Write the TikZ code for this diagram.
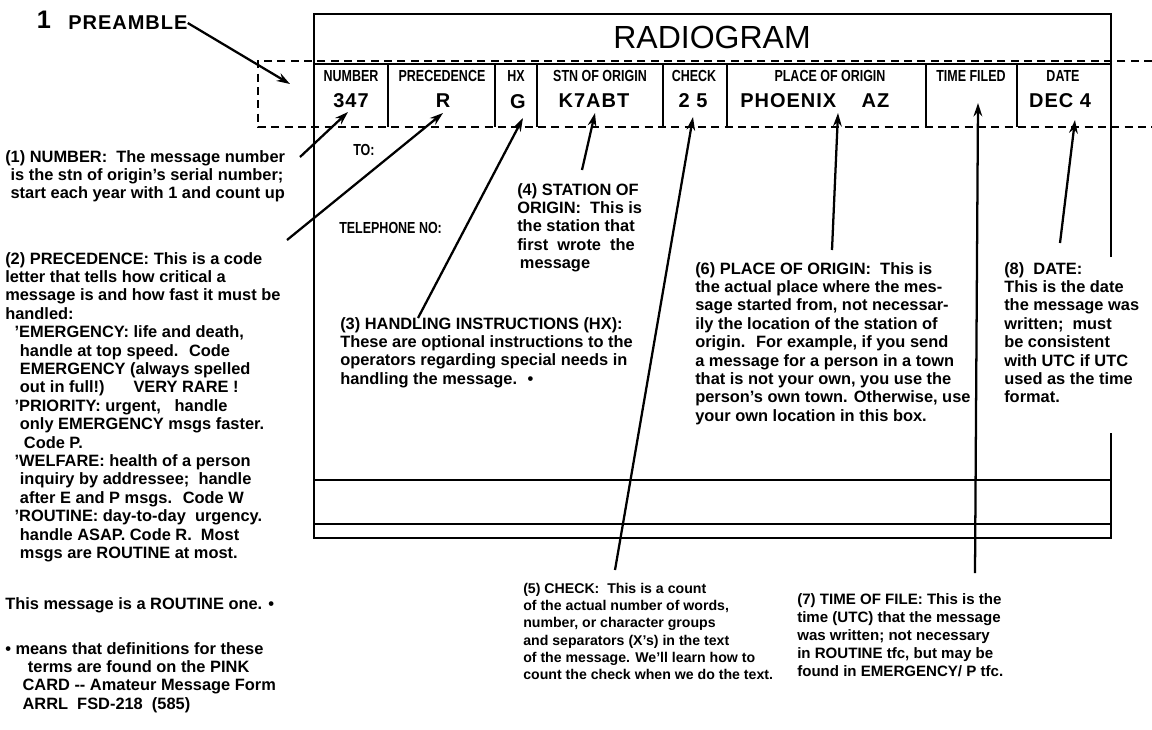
\documentclass[tikz,border=0pt]{standalone}
\usepackage{fontspec}
\setmainfont{Liberation Sans}
\newfontfamily\formfont[FakeStretch=0.78]{Liberation Sans}
\newfontfamily\valfont[LetterSpace=5]{Liberation Sans}
\usetikzlibrary{arrows.meta}

\begin{document}
\begin{tikzpicture}[x=0.75pt,y=-0.75pt,
    note/.style={anchor=north west,inner sep=0pt,align=left,
      font=\fontsize{12.3}{13.8}\selectfont\bfseries},
    smallnote/.style={note,font=\fontsize{10.6}{12.9}\selectfont\bfseries},
    cell/.style={inner sep=0pt,font=\formfont\fontsize{12}{14}\selectfont\bfseries},
    entry/.style={inner sep=0pt,font=\valfont\fontsize{15}{18}\selectfont\bfseries},
    formline/.style={line width=1.5pt},
    preline/.style={line width=1.4pt,dash pattern=on 6pt off 4pt}]
  \useasboundingbox (0,0) rectangle (1152,729);

  % the form
  \draw[line width=2.2pt] (1111,257) -- (1111,14) -- (314,14) -- (314,538)
    -- (1111,538) -- (1111,433);
  \draw[formline] (314,64) -- (1111,64);
  \draw[formline] (314,480) -- (1111,480);
  \draw[formline] (314,524) -- (1111,524);
  \foreach \x in {388,495,537,663,727,926,1017}
    \draw[formline] (\x,64) -- (\x,127);
  \draw[preline] (1152,61) -- (258,61) -- (258,127) -- (1152,127);

  \node[font=\fontsize{24}{28}\selectfont] (title) at (712,37) {RADIOGRAM};

  % header row
  \node[cell] (lnum) at (351,76) {NUMBER};
  \node[cell] (lprec) at (442,76) {PRECEDENCE};
  \node[cell] (lhx) at (516,76) {HX};
  \node[cell] (lstn) at (600,76) {STN OF ORIGIN};
  \node[cell] (lchk) at (694,76) {CHECK};
  \node[cell] (lplace) at (830,76) {PLACE OF ORIGIN};
  \node[cell] (ltime) at (971,76) {TIME FILED};
  \node[cell] (ldate) at (1063,76) {DATE};

  \node[entry] (num) at (351,101) {347};
  \node[entry] (prec) at (443,101) {R};
  \node[entry] (hx) at (518,102) {G};
  \node[entry] (stn) at (594,101) {K7ABT};
  \node[entry] (chk) at (693,101) {2 5};
  \node[entry,anchor=west] (place) at (740,101) {PHOENIX\hspace{19pt}AZ};
  \node[entry] (date) at (1060,101) {DEC 4};

  \node[cell,anchor=west] (to) at (353,150) {TO:};
  \node[cell,anchor=west] (tel) at (339,228) {TELEPHONE NO:};

  \node[font=\fontsize{19}{22}\selectfont\bfseries] (one) at (44,20) {1};
  \node[entry,anchor=west] (pre) at (68,23) {PREAMBLE};

  % explanations
  \node[note] (n1) at (5,150) {(1) NUMBER:~ The message number\\
    \hspace*{4pt}is the stn of origin's serial number;\\
    \hspace*{4pt}start each year with 1 and count up};
  \node[note] (n2) at (5,252) {(2) PRECEDENCE: This is a code\\
    letter that tells how critical a\\
    message is and how fast it must be\\
    handled:\\
    \hspace*{7pt}'EMERGENCY: life and death,\\
    \hspace*{11pt}handle at top speed.~ Code\\
    \hspace*{11pt}EMERGENCY (always spelled\\
    \hspace*{11pt}out in full!)~~~~~ VERY RARE !\\
    \hspace*{7pt}'PRIORITY: urgent,~~ handle\\
    \hspace*{11pt}only EMERGENCY msgs faster.\\
    \hspace*{14pt}Code P.\\
    \hspace*{7pt}'WELFARE: health of a person\\
    \hspace*{11pt}inquiry by addressee;~ handle\\
    \hspace*{11pt}after E and P msgs.~ Code W\\
    \hspace*{7pt}'ROUTINE: day-to-day~ urgency.\\
    \hspace*{11pt}handle ASAP. Code R.~ Most\\
    \hspace*{11pt}msgs are ROUTINE at most.};
  \node[note] (routine) at (5,597) {This message is a ROUTINE one. •};
  \node[note] (pink) at (5,642) {• means that definitions for these\\
    \hspace*{17pt}terms are found on the PINK\\
    \hspace*{13pt}CARD -{}- Amateur Message Form\\
    \hspace*{13pt}ARRL~ FSD-218~ (585)};
  \node[note] (n3) at (340,317) {(3) HANDLING INSTRUCTIONS (HX):\\
    These are optional instructions to the\\
    operators regarding special needs in\\
    handling the message.~ •};
  \node[note] (n4) at (517,183) {(4) STATION OF\\
    ORIGIN:~ This is\\
    the station that\\
    first~ wrote~ the\\
    \hspace*{2pt}message};
  \node[smallnote] (n5) at (523,583) {(5) CHECK:~ This is a count\\
    of the actual number of words,\\
    number, or character groups\\
    and separators (X's) in the text\\
    of the message. We'll learn how to\\
    count the check when we do the text.};
  \node[note] (n6) at (695,262) {(6) PLACE OF ORIGIN:~ This is\\
    the actual place where the mes-\\
    sage started from, not necessar-\\
    ily the location of the station of\\
    origin.~ For example, if you send\\
    a message for a person in a town\\
    that is not your own, you use the\\
    person's own town. Otherwise, use\\
    your own location in this box.};
  \node[smallnote,font=\fontsize{11.3}{13.5}\selectfont\bfseries] (n7) at (797,593)
    {(7) TIME OF FILE: This is the\\
    time (UTC) that the message\\
    was written; not necessary\\
    in ROUTINE tfc, but may be\\
    found in EMERGENCY/ P tfc.};
  \node[note] (n8) at (1004,262) {(8)~ DATE:\\
    This is the date\\
    the message was\\
    written;~ must\\
    be consistent\\
    with UTC if UTC\\
    used as the time\\
    format.};

  % arrow ends
  \coordinate (PA) at (290,84);
  \coordinate (T1) at (300,157);
  \coordinate (H1) at (348,112);
  \coordinate (T2) at (287,240);
  \coordinate (H2) at (443,113);
  \coordinate (T3) at (418,318);
  \coordinate (H3) at (523,118);
  \coordinate (T4) at (582,170);
  \coordinate (H4) at (595,113);
  \coordinate (T5) at (615,570);
  \coordinate (H5) at (693,117);
  \coordinate (T6) at (832,250);
  \coordinate (H6) at (838,113);
  \coordinate (T7) at (975,573);
  \coordinate (H7) at (978,103);
  \coordinate (T8) at (1060,243);
  \coordinate (H8) at (1075,120);
  \begin{scope}[->,>={Stealth[length=10pt,width=6.5pt]},line width=1.7pt]
    \draw (pre.east) -- (PA);
    \draw (T1) -- (H1);
    \draw (T2) -- (H2);
    \draw (T3) -- (H3);
    \draw (T4) -- (H4);
    \draw (T5) -- (H5);
    \draw (T6) -- (H6);
    \draw (T7) -- (H7);
    \draw (T8) -- (H8);
  \end{scope}
\end{tikzpicture}
\end{document}
